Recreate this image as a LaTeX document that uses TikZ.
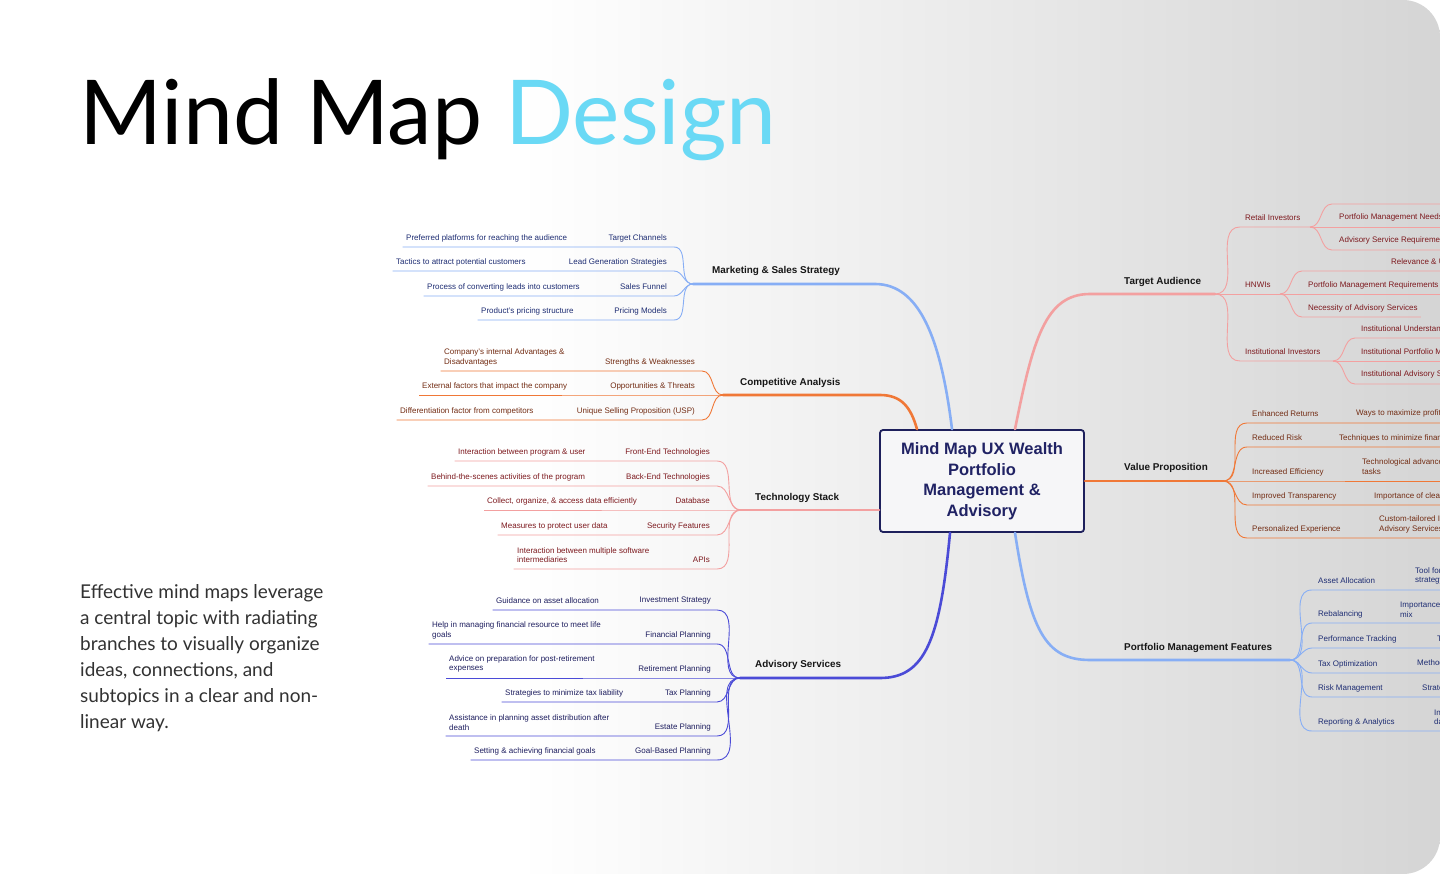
\documentclass[tikz,border=0pt]{standalone}
\usepackage{fontspec}
\setmainfont{Liberation Sans}
\newfontfamily\headfont{Lato}
\usepackage{tikz}
\usetikzlibrary{positioning}
\definecolor{skyink}{RGB}{106,217,245}
\definecolor{bodyink}{RGB}{50,50,50}
\definecolor{trunkink}{RGB}{22,22,22}
\definecolor{hubline}{RGB}{30,32,92}
\definecolor{hubink}{RGB}{32,34,100}
\definecolor{hubfill}{RGB}{246,246,248}
\definecolor{skyline}{RGB}{135,174,245}
\definecolor{navyink}{RGB}{30,45,115}
\definecolor{emberline}{RGB}{240,120,55}
\definecolor{emberink}{RGB}{115,45,20}
\definecolor{roseline}{RGB}{243,160,160}
\definecolor{roseink}{RGB}{125,25,30}
\definecolor{indigoline}{RGB}{75,75,215}
\definecolor{indigoink}{RGB}{30,30,95}
\definecolor{panelgray}{RGB}{213,213,213}
\pgfdeclarehorizontalshading{panelshade}{100bp}{color(0bp)=(white); color(25bp)=(white);
  color(43bp)=(white); color(75bp)=(panelgray); color(100bp)=(panelgray)}

\begin{document}
\begin{tikzpicture}[x=1pt, y=-1pt,
  trunk/.style={line width=2.6pt, line cap=round},
  twig/.style={line width=0.9pt},
  trunklbl/.style={anchor=west, inner sep=0pt, text=trunkink,
    font=\bfseries\fontsize{9.9}{12}\selectfont},
  twiglbl/.style={inner sep=0pt, align=left, font=\fontsize{8}{9.5}\selectfont},
  hub/.style={rectangle, rounded corners=3pt, draw=hubline, line width=1.8pt,
    fill=hubfill, minimum width=204pt, minimum height=102pt, inner sep=0pt,
    align=center, text=hubink, font=\bfseries\fontsize{16.5}{20.5}\selectfont}
]
  \useasboundingbox (0,0) rectangle (1440,874);
  \clip (0,0) rectangle (1440,874);
  \fill[white] (0,0) rectangle (1440,874);
  \shade[shading=panelshade] (0,0) -- (1403,0) .. controls (1423.4,0) and (1440,16.6) .. (1440,37)
    -- (1440,837) .. controls (1440,857.4) and (1423.4,874) .. (1403,874) -- (0,874) -- cycle;

  % heading and blurb
  \node[anchor=base west, inner sep=0pt] (title) at (79,145)
    {\headfont\fontsize{89.5}{89.5}\selectfont Mind Map \textcolor{skyink}{Design}};
  \node[anchor=north west, inner sep=0pt, align=left, text=bodyink,
    font=\headfont\fontsize{19}{26}\selectfont] (blurb) at (80,584)
    {Effective mind maps leverage\\a central topic with radiating\\branches to visually organize\\
     ideas, connections, and\\subtopics in a clear and non-\\linear way.};

  % central topic
  \node[hub] (cen) at (982,481) {Mind Map UX Wealth\\Portfolio\\Management \&\\Advisory};

  % main branches
  \node[trunklbl] (mk) at (712,271) {Marketing \& Sales Strategy};
  \node[trunklbl] (cp) at (740,383) {Competitive Analysis};
  \node[trunklbl] (tc) at (755,498) {Technology Stack};
  \node[trunklbl] (ad) at (755,665) {Advisory Services};
  \node[trunklbl] (ta) at (1124,282) {Target Audience};
  \node[trunklbl] (vp) at (1124,468) {Value Proposition};
  \node[trunklbl] (pm) at (1124,648) {Portfolio Management Features};

  \coordinate (mkb) at (875,284);  \coordinate (mkj) at (693,284);
  \coordinate (cpb) at (880,395);  \coordinate (cpj) at (723,395);
  \coordinate (tcj) at (741,510);
  \coordinate (adb) at (880,678);  \coordinate (adj) at (740,678);
  \coordinate (tab) at (1090,294); \coordinate (taj) at (1215,294);
  \coordinate (vpj) at (1223,481);
  \coordinate (pmb) at (1090,660); \coordinate (pmj) at (1290,660);

  \draw[trunk, skyline] ([xshift=-30pt]cen.north) .. controls (941,340) and (920,284) .. (mkb) -- (mkj);
  \draw[trunk, emberline] ([xshift=-65pt]cen.north) .. controls (911,408) and (902,395) .. (cpb) -- (cpj);
  \draw[trunk, roseline] ([yshift=-29pt]cen.west) -- (tcj);
  \draw[trunk, indigoline] ([xshift=-32pt]cen.south) .. controls (940,640) and (925,678) .. (adb) -- (adj);
  \draw[trunk, roseline] ([xshift=33pt]cen.north) .. controls (1033,340) and (1045,294) .. (tab) -- (taj);
  \draw[trunk, emberline] (cen.east) -- (vpj);
  \draw[trunk, skyline] ([xshift=33pt]cen.south) .. controls (1030,630) and (1045,660) .. (pmb) -- (pmj);

  % marketing & sales
  \foreach \n/\lab/\desc/\dx/\dy/\uy in {
    1/Target Channels/Preferred platforms for reaching the audience/406/238/247,
    2/Lead Generation Strategies/Tactics to attract potential customers/396/262/271,
    3/Sales Funnel/Process of converting leads into customers/427/287/296,
    4/Pricing Models/Product's pricing structure/481/311/320}{
    \node[twiglbl, text=navyink, anchor=east] (mk\n) at (667,{\uy-9}) {\lab};
    \node[twiglbl, text=navyink, anchor=west] (mkd\n) at (\dx,\dy) {\desc};
    \coordinate (mke\n) at (674,\uy);
    \draw[twig, skyline, shorten >=-3.5pt] (mkj) to[out=180,in=0] (mke\n) -- (mke\n -| mkd\n.west);
  }

  % competitive analysis
  \foreach \n/\lab/\desc/\dx/\dy/\uy in {
    1/Strengths \& Weaknesses/{Company's internal Advantages \&\\Disadvantages}/444/357.5/371,
    2/Opportunities \& Threats/External factors that impact the company/422/386/395,
    3/Unique Selling Proposition (USP)/Differentiation factor from competitors/400/411/420}{
    \node[twiglbl, text=emberink, anchor=east] (cp\n) at (695,{\uy-9}) {\lab};
    \node[twiglbl, text=emberink, anchor=west] (cpd\n) at (\dx,\dy) {\desc};
    \coordinate (cpe\n) at (702,\uy);
    \draw[twig, emberline, shorten >=-3.5pt] (cpj) to[out=180,in=0] (cpe\n) -- (cpe\n -| cpd\n.west);
  }

  % technology stack
  \foreach \n/\lab/\desc/\dx/\dy/\uy in {
    1/Front-End Technologies/Interaction between program \& user/458/452/461,
    2/Back-End Technologies/Behind-the-scenes activities of the program/431/477/486,
    3/Database/{Collect, organize, \& access data efficiently}/487/501/510,
    4/Security Features/Measures to protect user data/501/526/535,
    5/APIs/{Interaction between multiple software\\intermediaries}/517/555/569}{
    \node[twiglbl, text=roseink, anchor=east] (tc\n) at (710,{\uy-9}) {\lab};
    \node[twiglbl, text=roseink, anchor=west] (tcd\n) at (\dx,\dy) {\desc};
    \coordinate (tce\n) at (717,\uy);
    \draw[twig, roseline, shorten >=-3.5pt] (tcj) to[out=180,in=0] (tce\n) -- (tce\n -| tcd\n.west);
  }

  % advisory services
  \foreach \n/\lab/\desc/\dx/\dy/\uy in {
    1/Investment Strategy/Guidance on asset allocation/496/601/610,
    2/Financial Planning/{Help in managing financial resource to meet life\\goals}/432/630.5/644,
    3/Retirement Planning/{Advice on preparation for post-retirement\\expenses}/449/664/678,
    4/Tax Planning/Strategies to minimize tax liability/505/693/702,
    5/Estate Planning/{Assistance in planning asset distribution after\\death}/449/722.5/736,
    6/Goal-Based Planning/Setting \& achieving financial goals/474/751/760}{
    \node[twiglbl, text=indigoink, anchor=east] (ad\n) at (711,{\uy-9}) {\lab};
    \node[twiglbl, text=indigoink, anchor=west] (add\n) at (\dx,\dy) {\desc};
    \coordinate (ade\n) at (717,\uy);
    \draw[twig, indigoline, shorten >=-3.5pt] (adj) to[out=180,in=0] (ade\n) -- (ade\n -| add\n.west);
  }

  % target audience
  \node[twiglbl, text=roseink, anchor=west] (ri) at (1245,218) {Retail Investors};
  \node[twiglbl, text=roseink, anchor=west] (hn) at (1245,285) {HNWIs};
  \node[twiglbl, text=roseink, anchor=west] (in) at (1245,352) {Institutional Investors};
  \coordinate (rie) at (1240,227); \coordinate (rij) at (1310,227);
  \coordinate (hnj) at (1280,294);
  \coordinate (ine) at (1240,361); \coordinate (inj) at (1333,361);
  \draw[twig, roseline] (taj) to[out=0,in=180] (rie) -- (rij);
  \draw[twig, roseline] (taj) -- (hnj);
  \draw[twig, roseline] (taj) to[out=0,in=180] (ine) -- (inj);

  \node[twiglbl, text=roseink, anchor=west] (ri2) at (1339,217) {Portfolio Management Needs};
  \node[twiglbl, text=roseink, anchor=west] (ri3) at (1339,240) {Advisory Service Requirements};
  \coordinate (rie1) at (1332,204); \coordinate (rif1) at (1445,204);
  \coordinate (rif2) at (1445,227);
  \coordinate (rie3) at (1332,250); \coordinate (rif3) at (1445,250);
  \draw[twig, roseline] (rij) to[out=0,in=180] (rie1) -- (rif1);
  \draw[twig, roseline] (rij) -- (rif2);
  \draw[twig, roseline] (rij) to[out=0,in=180] (rie3) -- (rif3);

  \node[twiglbl, text=roseink, anchor=west] (hn1) at (1391,262) {Relevance \& Use of Services};
  \node[twiglbl, text=roseink, anchor=west] (hn2) at (1308,285) {Portfolio Management Requirements};
  \node[twiglbl, text=roseink, anchor=west] (hn3) at (1308,308) {Necessity of Advisory Services};
  \coordinate (hne1) at (1302,271); \coordinate (hnf1) at (1445,271);
  \coordinate (hnf2) at (1445,294);
  \coordinate (hne3) at (1302,317);
  \draw[twig, roseline] (hnj) to[out=0,in=180] (hne1) -- (hnf1);
  \draw[twig, roseline] (hnj) -- (hnf2);
  \draw[twig, roseline, shorten >=-3pt] (hnj) to[out=0,in=180] (hne3) -- (hne3 -| hn3.east);

  \node[twiglbl, text=roseink, anchor=west] (in1) at (1361,329) {Institutional Understanding};
  \node[twiglbl, text=roseink, anchor=west] (in2) at (1361,352) {Institutional Portfolio Management};
  \node[twiglbl, text=roseink, anchor=west] (in3) at (1361,374) {Institutional Advisory Services};
  \coordinate (ine1) at (1355,338); \coordinate (inf1) at (1445,338);
  \coordinate (inf2) at (1445,361);
  \coordinate (ine3) at (1355,384); \coordinate (inf3) at (1445,384);
  \draw[twig, roseline] (inj) to[out=0,in=180] (ine1) -- (inf1);
  \draw[twig, roseline] (inj) -- (inf2);
  \draw[twig, roseline] (inj) to[out=0,in=180] (ine3) -- (inf3);

  % value proposition
  \foreach \n/\lab/\desc/\dx/\dy/\uy in {
    1/Enhanced Returns/Ways to maximize profits/1356/413/423,
    2/Reduced Risk/Techniques to minimize financial risk/1339/438/447,
    3/Increased Efficiency/{Technological advancements to automate\\tasks}/1362/466.5/481,
    4/Improved Transparency/Importance of clear reporting/1374/496/505,
    5/Personalized Experience/{Custom-tailored Investment \&\\Advisory Services}/1379/524.5/538}{
    \node[twiglbl, text=emberink, anchor=west] (vp\n) at (1252,{\uy-9}) {\lab};
    \node[twiglbl, text=emberink, anchor=west] (vpd\n) at (\dx,\dy) {\desc};
    \coordinate (vpe\n) at (1247,\uy);
    \coordinate (vpf\n) at (1445,\uy);
    \draw[twig, emberline] (vpj) to[out=0,in=180] (vpe\n) -- (vpf\n);
  }

  % portfolio management features
  \foreach \n/\lab/\desc/\dx/\dy/\uy in {
    1/Asset Allocation/{Tool for allocation\\strategy}/1415/576/590,
    2/Rebalancing/{Importance of asset\\mix}/1400/609.5/623,
    3/Performance Tracking/Tracking returns/1437/639/648,
    4/Tax Optimization/Methods to reduce taxes/1417/663/673,
    5/Risk Management/Strategies to manage risk/1422/688/697,
    6/Reporting \& Analytics/{Insights into portfolio\\data}/1434/717/731}{
    \node[twiglbl, text=navyink, anchor=west] (pm\n) at (1318,{\uy-9}) {\lab};
    \node[twiglbl, text=navyink, anchor=west] (pmd\n) at (\dx,\dy) {\desc};
    \coordinate (pme\n) at (1312,\uy);
    \coordinate (pmf\n) at (1445,\uy);
    \draw[twig, skyline] (pmj) to[out=0,in=180] (pme\n) -- (pmf\n);
  }
\end{tikzpicture}
\end{document}
